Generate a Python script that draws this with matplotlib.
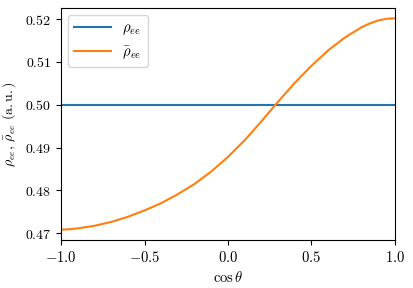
import matplotlib
matplotlib.use("Agg")
import matplotlib.pyplot as plt

plt.rcParams['mathtext.fontset'] = 'cm'
plt.rcParams['font.family'] = 'serif'
plt.rcParams['font.serif'] = ['DejaVu Serif']

# data
cos_theta = [-1.0, -0.95, -0.9, -0.85, -0.8, -0.7, -0.6, -0.5, -0.4, -0.3, -0.2, -0.1,
             0.0, 0.1, 0.2, 0.3, 0.4, 0.5, 0.6, 0.7, 0.8, 0.85, 0.9, 0.95, 1.0]
rho_ee = [0.5] * len(cos_theta)
rho_bar_ee = [0.4708, 0.4709, 0.4711, 0.4714, 0.4717, 0.4726, 0.4738, 0.4753,
              0.4770, 0.4791, 0.4815, 0.4844, 0.4878, 0.4917, 0.4961, 0.5007,
              0.5051, 0.5091, 0.5127, 0.5157, 0.5181, 0.5190, 0.5197, 0.5201,
              0.5202]

xticks = [-1.0, -0.5, 0.0, 0.5, 1.0]
xticklabels = ['$-1.0$', '$-0.5$', '$0.0$', '$0.5$', '$1.0$']
yticks = [0.47, 0.48, 0.49, 0.50, 0.51, 0.52]
yticklabels = ['$0.47$', '$0.48$', '$0.49$', '$0.50$', '$0.51$', '$0.52$']

fig = plt.figure(figsize=(4.13, 2.88), dpi=100)
ax = fig.add_axes([0.148, 0.167, 0.808, 0.805])

ax.plot(cos_theta, rho_ee, color='#1f77b4', lw=1.5, label=r'$\rho_{ee}$')
ax.plot(cos_theta, rho_bar_ee, color='#ff7f0e', lw=1.5, label=r'$\bar{\rho}_{ee}$')

ax.set_xlim(-1, 1)
ax.set_ylim(0.4684, 0.5226)
ax.set_xticks(xticks)
ax.set_xticklabels(xticklabels, fontsize=10.5)
ax.set_yticks(yticks)
ax.set_yticklabels(yticklabels, fontsize=10)

ax.set_xlabel(r'$\cos\theta$', fontsize=10.5)
ax.set_ylabel(r'$\rho_{ee},\, \bar{\rho}_{ee}\ (\mathrm{a.u.})$', fontsize=10)
ax.yaxis.set_label_coords(-0.13, 0.5)
ax.legend(loc='upper left', fontsize=10.5, handlelength=2.5)

fig.savefig('out.png', dpi=100)
